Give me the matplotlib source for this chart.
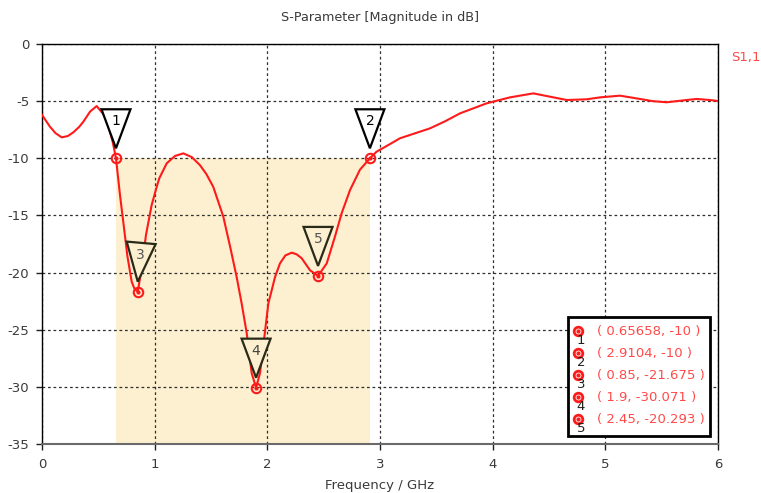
import numpy as np
import matplotlib
matplotlib.use("Agg")
import matplotlib.pyplot as plt
from matplotlib.patches import Polygon, Rectangle
from matplotlib import transforms as mtransforms

# S11 magnitude in dB versus frequency in GHz
freq_ghz = [0.0, 0.07, 0.12, 0.175, 0.23, 0.278, 0.33, 0.367, 0.426, 0.485,
            0.55, 0.59, 0.627, 0.65658, 0.692, 0.728, 0.757, 0.796, 0.82, 0.85,
            0.885, 0.923, 0.973, 1.018, 1.041, 1.107, 1.18, 1.254, 1.33, 1.402,
            1.46, 1.52, 1.609, 1.669, 1.728, 1.772, 1.817, 1.861, 1.9, 1.935,
            1.974, 2.009, 2.04, 2.068, 2.112, 2.16, 2.216, 2.26, 2.305, 2.379,
            2.45, 2.527, 2.6, 2.66, 2.734, 2.822, 2.9104, 2.97, 3.074, 3.177,
            3.3, 3.444, 3.58, 3.71, 3.947, 4.154, 4.36, 4.509, 4.657, 4.834,
            4.953, 5.13, 5.308, 5.42, 5.545, 5.722, 5.811, 5.929, 6.0]
s11_db = [-6.2, -7.23, -7.8, -8.17, -8.05, -7.73, -7.25, -6.8, -5.92, -5.43,
          -6.2, -7.2, -8.55, -10.0, -13.2, -16.1, -18.5, -20.8, -21.4, -21.675,
          -19.6, -16.7, -14.1, -12.5, -11.75, -10.44, -9.8, -9.57, -9.9, -10.6,
          -11.4, -12.5, -15.1, -17.7, -20.4, -22.7, -25.3, -28.8, -30.071, -28.8,
          -25.6, -22.7, -21.5, -20.4, -19.2, -18.5, -18.26, -18.4, -18.75, -19.8,
          -20.293, -19.2, -16.86, -14.8, -12.78, -11.0, -10.0, -9.42, -8.84, -8.25,
          -7.85, -7.38, -6.75, -6.07, -5.19, -4.67, -4.32, -4.61, -4.9, -4.84,
          -4.67, -4.52, -4.81, -5.0, -5.1, -4.9, -4.81, -4.9, -4.99]

# Markers placed on the curve
marker_ids = ["1", "2", "3", "4", "5"]
marker_freq = [0.65658, 2.9104, 0.85, 1.9, 2.45]
marker_db = [-10, -10, -21.675, -30.071, -20.293]

# -10 dB bandwidth shading between markers 1 and 2
band_level = -10

x_ticks = [0, 1, 2, 3, 4, 5, 6]
y_ticks = [0, -5, -10, -15, -20, -25, -30, -35]

plt.rcParams["font.family"] = ["DejaVu Sans"]
plt.rcParams["font.size"] = 9.3
plt.rcParams["axes.unicode_minus"] = False

W, H, DPI = 761, 493, 100
fig = plt.figure(figsize=(W / DPI, H / DPI), dpi=DPI)
ax = fig.add_axes([42 / W, (H - 444) / H, 676 / W, 400 / H])

red = "#ff1a1a"
text_red = "#ff4a4a"
shade = "#fdf0d0"
txt_gray = "#3a3a3a"

ax.set_xlim(x_ticks[0], x_ticks[-1])
ax.set_ylim(y_ticks[-1], y_ticks[0])
ax.set_xticks(x_ticks)
ax.set_yticks(y_ticks)
ax.tick_params(direction="out", length=4, width=1, colors="#202020",
               labelcolor=txt_gray, labelsize=9.5)
ax.tick_params(axis="x", pad=6)
ax.tick_params(axis="y", pad=5)
ax.grid(True, linestyle=(0, (2.2, 2.2)), color="#303030", linewidth=0.9)
for side in ["left", "top", "right"]:
    ax.spines[side].set_color("#000000")
    ax.spines[side].set_linewidth(1.0)
ax.spines["bottom"].set_color("#6a6a6a")
ax.spines["bottom"].set_linewidth(1.5)

# shaded band
ax.add_patch(Rectangle((marker_freq[0], y_ticks[-1]),
                       marker_freq[1] - marker_freq[0],
                       band_level - y_ticks[-1],
                       facecolor=shade, edgecolor="none", zorder=1))

ax.plot(freq_ghz, s11_db, color=red, linewidth=1.5, zorder=3)

# marker circles on curve
ax.plot(marker_freq, marker_db, linestyle="none", marker="o", ms=6.8,
        mfc="none", mec=red, mew=1.5, zorder=6, clip_on=False)
ax.plot(marker_freq, marker_db, linestyle="none", marker="o", ms=2.0,
        mfc=red, mec=red, zorder=6, clip_on=False)

fig.canvas.draw()

# triangular marker flags above each marker point
tri_fill = ["white", "white", shade, shade, shade]
tri_edge = ["#000000", "#000000", "#2a2a18", "#2a2a18", "#2a2a18"]
tri_text = ["#000000", "#000000", "#555555", "#444444", "#555555"]
tri_rot = [0, 0, -5, 0, 0]
for mid, fx, fy, fc, ec, tc, rot in zip(marker_ids, marker_freq, marker_db,
                                        tri_fill, tri_edge, tri_text, tri_rot):
    px, py = ax.transData.transform((fx, fy))
    tip = np.array([0.0, 10.0])
    verts = np.array([[0.0, 10.0], [-14.5, 49.0], [14.5, 49.0]])
    th = np.deg2rad(rot)
    R = np.array([[np.cos(th), -np.sin(th)], [np.sin(th), np.cos(th)]])
    verts = (verts - tip) @ R.T + tip
    lbl = (np.array([0.0, 37.0]) - tip) @ R.T + tip
    poly = Polygon(verts + [px, py], closed=True, facecolor=fc, edgecolor=ec,
                   linewidth=1.6, transform=mtransforms.IdentityTransform(),
                   zorder=5)
    fig.add_artist(poly)
    fig.text((px + lbl[0]) / W, (py + lbl[1]) / H, mid, ha="center",
             va="center", color=tc, fontsize=10, zorder=6)

# marker readout box
bx0, by0, bx1, by1 = 568, 317, 710, 436
fig.add_artist(Rectangle((bx0 / W, (H - by1) / H), (bx1 - bx0) / W,
                         (by1 - by0) / H, transform=fig.transFigure,
                         facecolor="white", edgecolor="black", linewidth=2.0,
                         zorder=7))
row_y = [331, 353, 375, 397, 419]
for mid, fx, fy, ry in zip(marker_ids, marker_freq, marker_db, row_y):
    yy = (H - ry) / H
    fig.add_artist(plt.Line2D([577.5 / W], [yy], marker="o", ms=6.2,
                              mfc="none", mec=red, mew=2.0,
                              transform=fig.transFigure, zorder=8))
    fig.add_artist(plt.Line2D([577.5 / W], [yy], marker="o", ms=2.0,
                              mfc=red, mec=red, transform=fig.transFigure,
                              zorder=8))
    fig.text(581 / W, (H - ry - 10) / H, mid, ha="center", va="center",
             color="#202020", fontsize=9.5, zorder=9)
    fig.text(597 / W, yy, f"( {fx:g}, {fy:g} )", ha="left", va="center",
             color=text_red, fontsize=9.5, zorder=9)

fig.text(380 / W, (H - 18) / H, "S-Parameter [Magnitude in dB]",
         ha="center", va="center", color=txt_gray, fontsize=9.2)
fig.text(380 / W, (H - 485) / H, "Frequency / GHz", ha="center",
         va="center", color=txt_gray, fontsize=9.5)
fig.text(731 / W, (H - 58) / H, "S1,1", ha="left", va="center",
         color=text_red, fontsize=9.5)

fig.savefig("out.png", dpi=DPI)
